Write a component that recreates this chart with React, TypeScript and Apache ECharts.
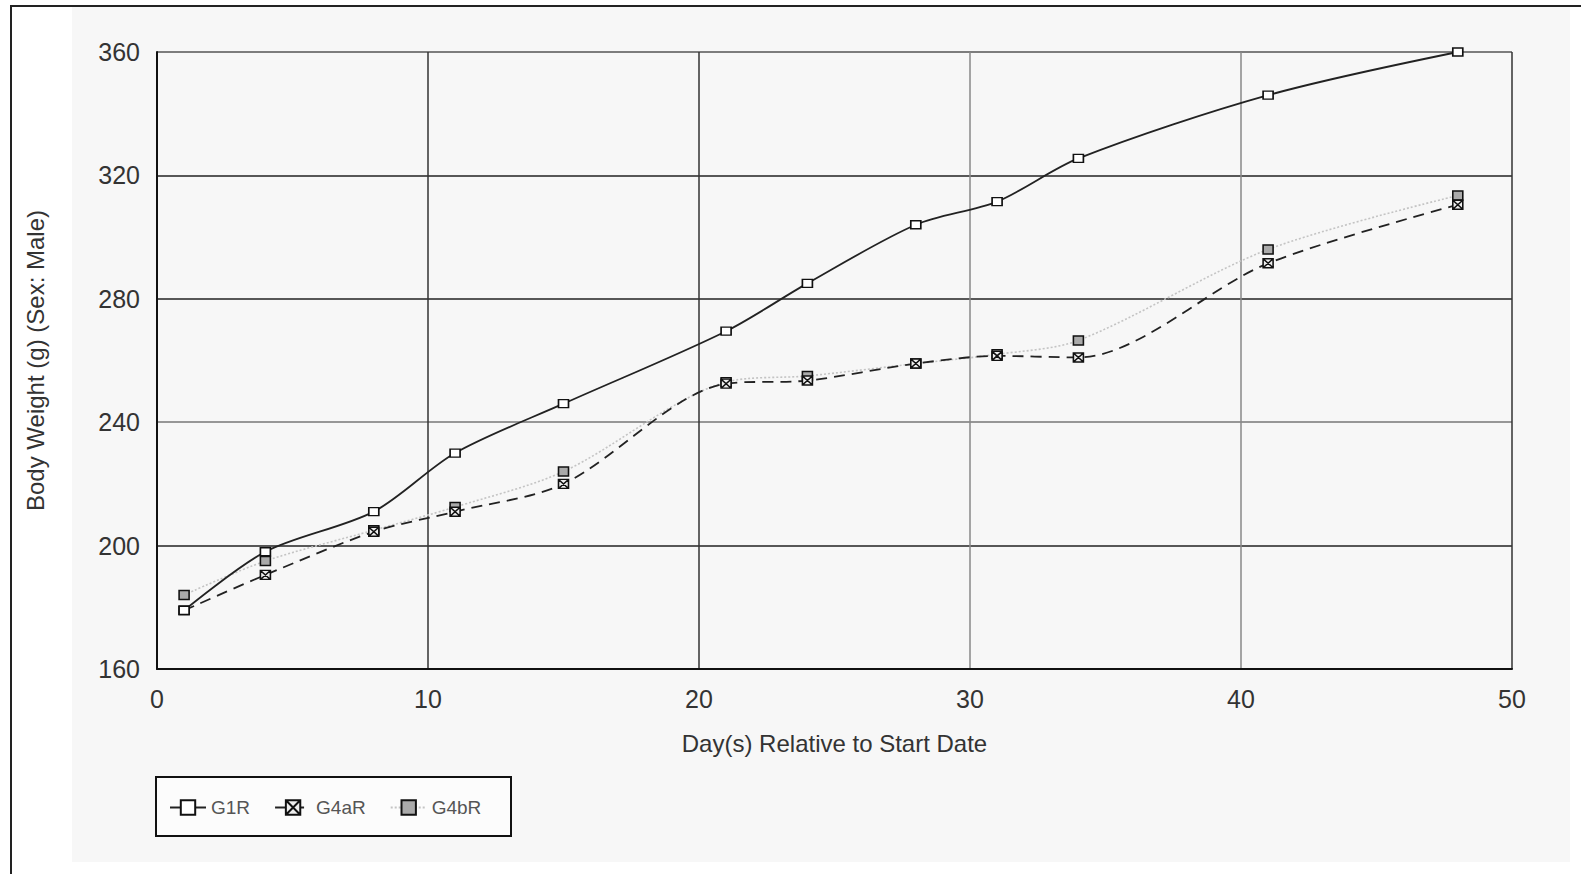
import React, { useEffect, useRef } from "react";
import * as echarts from "echarts";

const days = [1, 4, 8, 11, 15, 21, 24, 28, 31, 34, 41, 48];
const g1r = [179, 198, 211, 230, 246, 269.5, 285, 304, 311.5, 325.5, 346, 360];
const g4ar = [179, 190.5, 204.5, 211, 220, 252.5, 253.5, 259, 261.5, 261, 291.5, 310.5];
const g4br = [184, 195, 205, 212.5, 224, 253, 255, 259, 262, 266.5, 296, 313.5];
const seriesNames = ["G1R", "G4aR", "G4bR"];

const pair = (vals: number[]) => days.map((d, i) => [d, vals[i]]);

const FONT = "Liberation Sans, Arial, sans-serif";

export default function App() {
  const ref = useRef<HTMLDivElement>(null);
  useEffect(() => {
    if (!ref.current) return;
    const chart = echarts.init(ref.current, null, { renderer: "svg" });
    chart.setOption({
      animation: false,
      backgroundColor: "#ffffff",
      graphic: [
        {
          type: "rect",
          z: -10,
          silent: true,
          shape: { x: 72, y: 7, width: 1498, height: 855 },
          style: { fill: "#f7f7f7" },
        },
        {
          type: "rect",
          z: -9,
          silent: true,
          shape: { x: 11, y: 6, width: 1600, height: 900 },
          style: { fill: "none", stroke: "#222", lineWidth: 2 },
        },
        {
          type: "rect",
          z: -8,
          silent: true,
          shape: { x: 156, y: 777, width: 355, height: 59 },
          style: { fill: "#fcfcfc", stroke: "#111", lineWidth: 2 },
        },
      ],
      grid: { left: 157, top: 52, right: 69, bottom: 205, containLabel: false },
      legend: {
        left: 164,
        top: 793,
        itemWidth: 36,
        itemHeight: 18,
        itemGap: 24,
        textStyle: { fontFamily: FONT, fontSize: 19, color: "#555" },
        data: seriesNames,
      },
      xAxis: {
        type: "value",
        min: 0,
        max: 50,
        interval: 10,
        name: "Day(s) Relative to Start Date",
        nameLocation: "middle",
        nameGap: 62,
        nameTextStyle: { fontFamily: FONT, fontSize: 24, color: "#333" },
        axisLine: { show: true, lineStyle: { color: "#111", width: 2 } },
        axisTick: { show: false },
        axisLabel: { fontFamily: FONT, fontSize: 25, color: "#333", margin: 17 },
        splitLine: {
          show: true,
          lineStyle: { color: ["#222", "#333", "#333", "#888", "#888", "#333"], width: 1.5 },
        },
      },
      yAxis: {
        type: "value",
        min: 160,
        max: 360,
        interval: 40,
        name: "Body Weight (g) (Sex: Male)",
        nameLocation: "middle",
        nameGap: 110,
        nameTextStyle: { fontFamily: FONT, fontSize: 24, color: "#333" },
        axisLine: { show: true, lineStyle: { color: "#111", width: 2 } },
        axisTick: { show: false },
        axisLabel: { fontFamily: FONT, fontSize: 25, color: "#333", margin: 17 },
        splitLine: {
          show: true,
          lineStyle: { color: ["#222", "#222", "#777", "#222", "#222", "#555"], width: 1.5 },
        },
      },
      series: [
        {
          name: seriesNames[0],
          type: "line",
          data: pair(g1r),
          smooth: 0.3,
          symbol: "rect",
          symbolSize: [10, 8],
          lineStyle: { color: "#222", width: 1.8, type: "solid" },
          itemStyle: { color: "#ffffff", borderColor: "#111", borderWidth: 1.5 },
          z: 4,
        },
        {
          name: seriesNames[1],
          type: "line",
          data: pair(g4ar),
          smooth: 0.3,
          symbol: "path://M0,0L10,0L10,10L0,10Z M0,0L10,10 M10,0L0,10",
          symbolSize: [10, 9],
          lineStyle: { color: "#222", width: 1.8, type: [11, 7] },
          itemStyle: { color: "#eeeeee", borderColor: "#111", borderWidth: 1.5 },
          z: 3,
        },
        {
          name: seriesNames[2],
          type: "line",
          data: pair(g4br),
          smooth: 0.3,
          symbol: "rect",
          symbolSize: [10, 9],
          lineStyle: { color: "#c4c4c4", width: 1.6, type: [2, 2] },
          itemStyle: { color: "#aaaaaa", borderColor: "#111", borderWidth: 1.5 },
          z: 2,
        },
      ],
    });
    return () => chart.dispose();
  }, []);
  return (
    <div
      ref={ref}
      style={{ position: "fixed", left: 0, top: 0, width: 1581, height: 874 }}
    />
  );
}
